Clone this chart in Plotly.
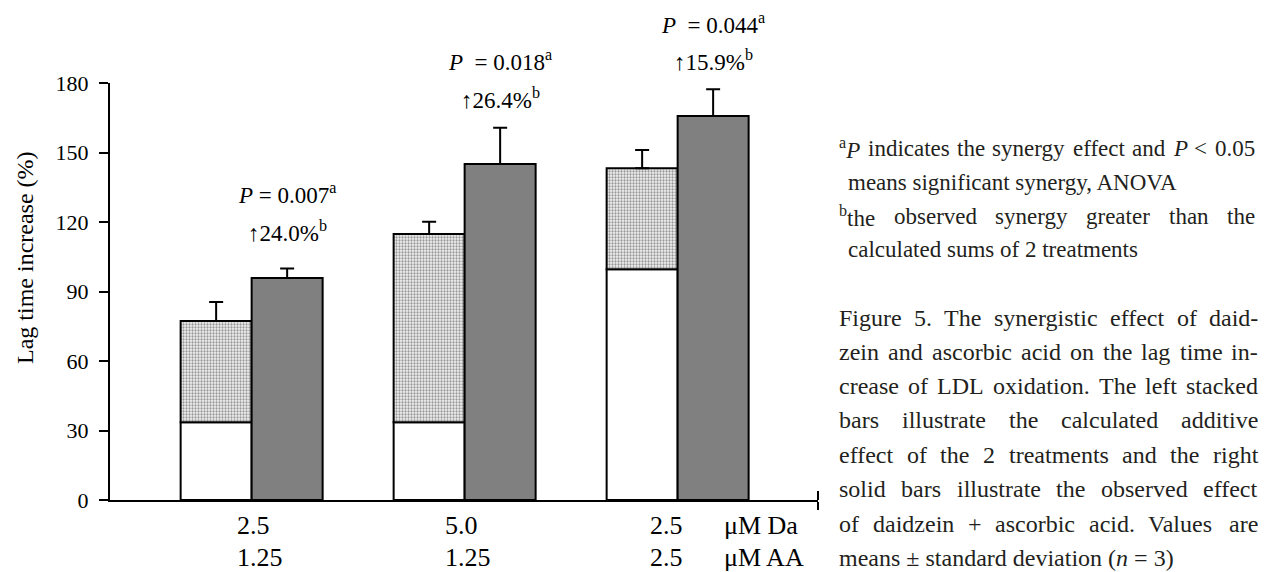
import re
import numpy as np
import plotly.graph_objects as go

# ---------------- data ----------------
da_conc = ["2.5", "5.0", "2.5"]          # µM daidzein
aa_conc = ["1.25", "1.25", "2.5"]        # µM ascorbic acid
aa_alone = [33.6, 33.6, 99.6]            # white part of stacked bar
da_alone = [43.7, 81.2, 43.6]            # dotted part of stacked bar
additive_sd = [8.2, 5.3, 7.9]
combined = [95.8, 145.0, 165.8]          # solid grey bars
combined_sd = [4.1, 15.7, 11.5]
p_values = ["0.007", "0.018", "0.044"]
increase = ["24.0", "26.4", "15.9"]

yticks = [0, 30, 60, 90, 120, 150, 180]

caption_lines = [
    "Figure 5. The synergistic effect of daid-",
    "zein and ascorbic acid on the lag time in-",
    "crease of LDL oxidation. The left stacked",
    "bars illustrate the calculated additive",
    "effect of the 2 treatments and the right",
    "solid bars illustrate the observed effect",
    "of daidzein + ascorbic acid. Values are",
    "means ± standard deviation (<i>n</i> = 3)",
]
footnote_lines = [
    "<sup>a</sup><i>P</i> indicates the synergy effect and <i>P</i> &lt; 0.05",
    "means significant synergy, ANOVA",
    "<sup>b</sup>the observed synergy greater than the",
    "calculated sums of 2 treatments",
]

# ---------------- layout constants ----------------
FONT = "Liberation Serif"
W, H = 1264, 572
ML, MR, MT, MB = 110, 446, 83, 72
PLOT_H = H - MT - MB
PLOT_W = W - ML - MR
Y_MAX = 180
X_RANGE = [-0.665, 2.659]

# approximate glyph advance widths (Times metrics, 1/1000 em) used to justify text
_WID = {" ": 250, "!": 333, "(": 333, ")": 333, "+": 564, ",": 250, "-": 333,
        ".": 250, "=": 564, "<": 564, "±": 564, "%": 833,
        "A": 722, "D": 722, "F": 556, "L": 611, "N": 722, "O": 722, "P": 611,
        "T": 611, "V": 722,
        "a": 444, "b": 500, "c": 444, "d": 500, "e": 444, "f": 333, "g": 500,
        "h": 500, "i": 278, "j": 278, "k": 500, "l": 278, "m": 778, "n": 500,
        "o": 500, "p": 500, "q": 500, "r": 333, "s": 389, "t": 278, "u": 500,
        "v": 500, "w": 722, "x": 500, "y": 500, "z": 444}


def text_width(html, size):
    total = 0.0
    for sup in re.findall(r"<sup>(.*?)</sup>", html):
        total += 0.7 * sum(_WID.get(c, 500) for c in sup)
    plain = re.sub(r"<sup>.*?</sup>", "", html)
    plain = re.sub(r"</?[a-z]+>", "", plain).replace("&lt;", "<")
    total += sum(_WID.get(c, 500) for c in plain)
    return total * size / 1000


def justified(lines, left, right, ys, size, color, indents, last_free):
    out = []
    for k, (line, py) in enumerate(zip(lines, ys)):
        x0 = left + indents[k]
        words = line.split(" ")
        free = (k == len(lines) - 1 and last_free) or indents[k] > 0
        if free or len(words) == 1:
            out.append((line, x0, py, size, color))
            continue
        ws = [text_width(w, size) for w in words]
        gap = (right - x0 - sum(ws)) / (len(words) - 1)
        x = x0
        for w, wd in zip(words, ws):
            out.append((w, x, py, size, color))
            x += wd + gap
    return out


groups = np.arange(len(combined))
bar_w = 1 / 3
stack_x = groups - bar_w / 2
solid_x = groups + bar_w / 2

fig = go.Figure()
fig.add_trace(go.Bar(
    x=stack_x, y=aa_alone, width=bar_w,
    marker=dict(color="white", line=dict(color="black", width=2)),
    showlegend=False, hoverinfo="skip",
))
fig.add_trace(go.Bar(
    x=stack_x, y=da_alone, base=aa_alone, width=bar_w,
    marker=dict(color="white", line=dict(color="black", width=2),
                pattern=dict(shape=".", fgcolor="#3c3c3c", bgcolor="#f2f2f2",
                             size=3, solidity=0.45)),
    error_y=dict(type="data", symmetric=False, array=additive_sd,
                 arrayminus=[0] * len(additive_sd),
                 color="black", thickness=2, width=7),
    showlegend=False, hoverinfo="skip",
))
fig.add_trace(go.Bar(
    x=solid_x, y=combined, width=bar_w,
    marker=dict(color="#808080", line=dict(color="black", width=2)),
    error_y=dict(type="data", symmetric=False, array=combined_sd,
                 arrayminus=[0] * len(combined_sd),
                 color="black", thickness=2, width=7),
    showlegend=False, hoverinfo="skip",
))

annotations = []
# P-value / increase labels above the solid bars (y in data units, placed via paper)
p_label_y = [132.5, 189.5, 205.5]
inc_label_y = [115.7, 173.5, 189.5]
for i in range(len(combined)):
    sp = " " if i == 0 else "\u00a0\u00a0"
    annotations.append(dict(
        x=solid_x[i], y=p_label_y[i] / Y_MAX, xref="x", yref="paper",
        text=f"<i>P</i>{sp}= {p_values[i]}<sup>a</sup>",
        showarrow=False, xanchor="center", yanchor="middle",
        font=dict(family=FONT, size=23, color="black")))
    annotations.append(dict(
        x=solid_x[i], y=inc_label_y[i] / Y_MAX, xref="x", yref="paper",
        text=f"\u2191{increase[i]}%<sup>b</sup>",
        showarrow=False, xanchor="center", yanchor="middle",
        font=dict(family=FONT, size=23, color="black")))

# category labels (two rows)
cat_label_x = [-0.078, 0.898, 1.862]
row1_y, row2_y = 525, 557
for i in range(len(combined)):
    for txt, py in ((da_conc[i], row1_y), (aa_conc[i], row2_y)):
        annotations.append(dict(
            x=cat_label_x[i], y=(H - MB - py) / PLOT_H, xref="x", yref="paper",
            text=txt, showarrow=False, xanchor="left", yanchor="middle",
            font=dict(family=FONT, size=26, color="black")))
for txt, py in (("\u03bcM Da", row1_y), ("\u03bcM AA", row2_y)):
    annotations.append(dict(
        x=2.207, y=(H - MB - py) / PLOT_H, xref="x", yref="paper",
        text=txt, showarrow=False, xanchor="left", yanchor="middle",
        font=dict(family=FONT, size=26, color="black")))

# y-axis title
annotations.append(dict(
    x=0, xref="paper", xshift=25 - ML, y=(H - MB - 258) / PLOT_H, yref="paper",
    text="Lag time increase (%)", textangle=-90, showarrow=False,
    xanchor="center", yanchor="middle",
    font=dict(family=FONT, size=24, color="black")))

# footnotes + caption (justified like the printed page)
pieces = []
pieces += justified(footnote_lines, 837, 1253, [148, 182, 216, 249], 23,
                    "#231f20", [0, 9, 0, 9], last_free=True)
pieces += justified(caption_lines, 837, 1256,
                    [318, 352, 386, 420, 455, 489, 524, 558], 24,
                    "#231f20", [0] * 8, last_free=True)
for txt, px, py, size, color in pieces:
    annotations.append(dict(
        x=1, xref="paper", xshift=px - (ML + PLOT_W),
        y=(H - MB - py) / PLOT_H, yref="paper",
        text=txt, showarrow=False, xanchor="left", yanchor="middle",
        font=dict(family=FONT, size=size, color=color)))

fig.update_layout(
    width=W, height=H,
    margin=dict(l=ML, r=MR, t=MT, b=MB, pad=0),
    paper_bgcolor="white", plot_bgcolor="white",
    barmode="overlay",
    font=dict(family=FONT, size=22, color="black"),
    annotations=annotations,
    # upper half of the end tick on the x-axis (lower half is the axis tick)
    shapes=[dict(type="line", xref="paper", x0=1, x1=1,
                 yref="paper", y0=0, y1=9 / PLOT_H,
                 layer="above", line=dict(color="black", width=2))],
)
fig.update_xaxes(range=X_RANGE, showline=True, linecolor="black",
                 linewidth=2, showticklabels=False, ticks="outside",
                 tickvals=[X_RANGE[1] - 1e-4], ticklen=8, tickwidth=2,
                 tickcolor="black", showgrid=False, zeroline=False,
                 fixedrange=True)
fig.update_yaxes(range=[0, Y_MAX], tickvals=yticks, ticks="outside", ticklen=9,
                 tickwidth=2, tickcolor="black", showline=True, linecolor="black",
                 linewidth=2, showgrid=False, zeroline=False,
                 tickfont=dict(family=FONT, size=22, color="black"),
                 ticklabelstandoff=6)

fig.write_html(
    "out.html",
    config={"displayModeBar": False},
    post_script="document.body.style.margin='0';document.body.style.overflow='hidden';",
)
